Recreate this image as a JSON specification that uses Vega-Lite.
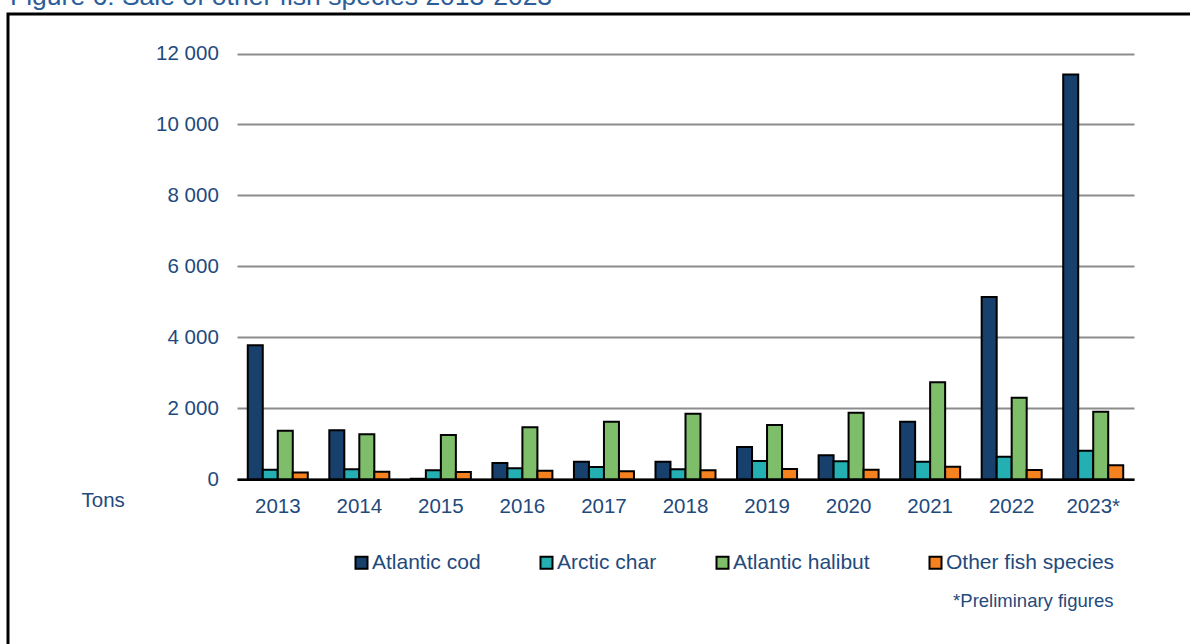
{
  "$schema": "https://vega.github.io/schema/vega-lite/v6.json",
  "autosize": "none",
  "width": 1184,
  "height": 632,
  "padding": {"left": 8, "top": 14, "right": 0, "bottom": 0},
  "background": "white",
  "title": {
    "text": "Figure 6: Sale of other fish species 2013-2023",
    "anchor": "start",
    "frame": "group",
    "orient": "top",
    "offset": -17,
    "baseline": "alphabetic",
    "dx": 2,
    "fontSize": 26.5,
    "font": "Liberation Sans",
    "fontWeight": "normal",
    "color": "#2C5E99"
  },
  "data": {
    "values": [
      {"year": "2013", "species": "Atlantic cod", "tons": 3780},
      {"year": "2013", "species": "Arctic char", "tons": 270},
      {"year": "2013", "species": "Atlantic halibut", "tons": 1370},
      {"year": "2013", "species": "Other fish species", "tons": 190},
      {"year": "2014", "species": "Atlantic cod", "tons": 1380},
      {"year": "2014", "species": "Arctic char", "tons": 280},
      {"year": "2014", "species": "Atlantic halibut", "tons": 1267},
      {"year": "2014", "species": "Other fish species", "tons": 215},
      {"year": "2015", "species": "Atlantic cod", "tons": 15},
      {"year": "2015", "species": "Arctic char", "tons": 255},
      {"year": "2015", "species": "Atlantic halibut", "tons": 1248},
      {"year": "2015", "species": "Other fish species", "tons": 205},
      {"year": "2016", "species": "Atlantic cod", "tons": 460},
      {"year": "2016", "species": "Arctic char", "tons": 310},
      {"year": "2016", "species": "Atlantic halibut", "tons": 1465},
      {"year": "2016", "species": "Other fish species", "tons": 240},
      {"year": "2017", "species": "Atlantic cod", "tons": 497},
      {"year": "2017", "species": "Arctic char", "tons": 347},
      {"year": "2017", "species": "Atlantic halibut", "tons": 1623},
      {"year": "2017", "species": "Other fish species", "tons": 225},
      {"year": "2018", "species": "Atlantic cod", "tons": 497},
      {"year": "2018", "species": "Arctic char", "tons": 282},
      {"year": "2018", "species": "Atlantic halibut", "tons": 1848},
      {"year": "2018", "species": "Other fish species", "tons": 253},
      {"year": "2019", "species": "Atlantic cod", "tons": 910},
      {"year": "2019", "species": "Arctic char", "tons": 515},
      {"year": "2019", "species": "Atlantic halibut", "tons": 1530},
      {"year": "2019", "species": "Other fish species", "tons": 290},
      {"year": "2020", "species": "Atlantic cod", "tons": 676},
      {"year": "2020", "species": "Arctic char", "tons": 507},
      {"year": "2020", "species": "Atlantic halibut", "tons": 1877},
      {"year": "2020", "species": "Other fish species", "tons": 270},
      {"year": "2021", "species": "Atlantic cod", "tons": 1623},
      {"year": "2021", "species": "Arctic char", "tons": 497},
      {"year": "2021", "species": "Atlantic halibut", "tons": 2732},
      {"year": "2021", "species": "Other fish species", "tons": 355},
      {"year": "2022", "species": "Atlantic cod", "tons": 5135},
      {"year": "2022", "species": "Arctic char", "tons": 637},
      {"year": "2022", "species": "Atlantic halibut", "tons": 2300},
      {"year": "2022", "species": "Other fish species", "tons": 262},
      {"year": "2023*", "species": "Atlantic cod", "tons": 11410},
      {"year": "2023*", "species": "Arctic char", "tons": 806},
      {"year": "2023*", "species": "Atlantic halibut", "tons": 1905},
      {"year": "2023*", "species": "Other fish species", "tons": 394}
    ]
  },
  "mark": {"type": "bar", "stroke": "black", "strokeWidth": 2},
  "encoding": {
    "x": {
      "field": "year",
      "type": "nominal",
      "sort": null,
      "scale": {"range": [229, 1126], "paddingInner": 0.264, "paddingOuter": 0.132},
      "axis": {
        "orient": "bottom",
        "offset": -166.7,
        "labelAngle": 0,
        "labelFontSize": 20.5,
        "labelPadding": 33,
        "labelBaseline": "alphabetic",
        "ticks": false,
        "domain": true,
        "domainColor": "black",
        "domainWidth": 2.5,
        "grid": false,
        "title": "*Preliminary figures",
        "titleX": 1105,
        "titleY": 126.7,
        "titleAlign": "right",
        "titleAnchor": "end",
        "titleBaseline": "alphabetic",
        "titleFontSize": 18.5,
        "titleFontWeight": "normal"
      }
    },
    "xOffset": {
      "field": "species",
      "type": "nominal",
      "sort": ["Atlantic cod", "Arctic char", "Atlantic halibut", "Other fish species"]
    },
    "y": {
      "field": "tons",
      "type": "quantitative",
      "scale": {"domain": [0, 12000], "range": [465.3, 39.5], "nice": false},
      "axis": {
        "orient": "left",
        "offset": -229,
        "values": [0, 2000, 4000, 6000, 8000, 10000, 12000],
        "labelExpr": "replace(format(datum.value, ',d'), ',', ' ')",
        "labelFontSize": 20.5,
        "labelPadding": 18.7,
        "ticks": false,
        "domain": false,
        "grid": true,
        "gridColor": "#8C8C8C",
        "gridWidth": 2,
        "title": "Tons",
        "titleAngle": 0,
        "titleX": -156,
        "titleY": 492.7,
        "titleAlign": "left",
        "titleAnchor": "start",
        "titleBaseline": "alphabetic",
        "titleFontSize": 20.5,
        "titleFontWeight": "normal"
      }
    },
    "color": {
      "field": "species",
      "type": "nominal",
      "scale": {
        "domain": ["Atlantic cod", "Arctic char", "Atlantic halibut", "Other fish species"],
        "range": ["#17406D", "#24AFB3", "#7EBD6A", "#F6821F"]
      },
      "legend": {
        "orient": "none",
        "legendX": 343,
        "legendY": 538,
        "direction": "horizontal",
        "title": null,
        "symbolType": "square",
        "symbolSize": 144,
        "symbolStrokeColor": "black",
        "symbolStrokeWidth": 2,
        "symbolOpacity": 1,
        "labelFontSize": 21,
        "labelOffset": 0,
        "labelLimit": 400,
        "columnPadding": 55
      }
    }
  },
  "config": {
    "view": {"stroke": "black", "strokeWidth": 3},
    "font": "Liberation Sans",
    "axis": {"labelColor": "#1F4A7C", "titleColor": "#1F4A7C", "labelFont": "Liberation Sans", "titleFont": "Liberation Sans"},
    "legend": {"labelColor": "#1F4A7C", "labelFont": "Liberation Sans"}
  }
}
